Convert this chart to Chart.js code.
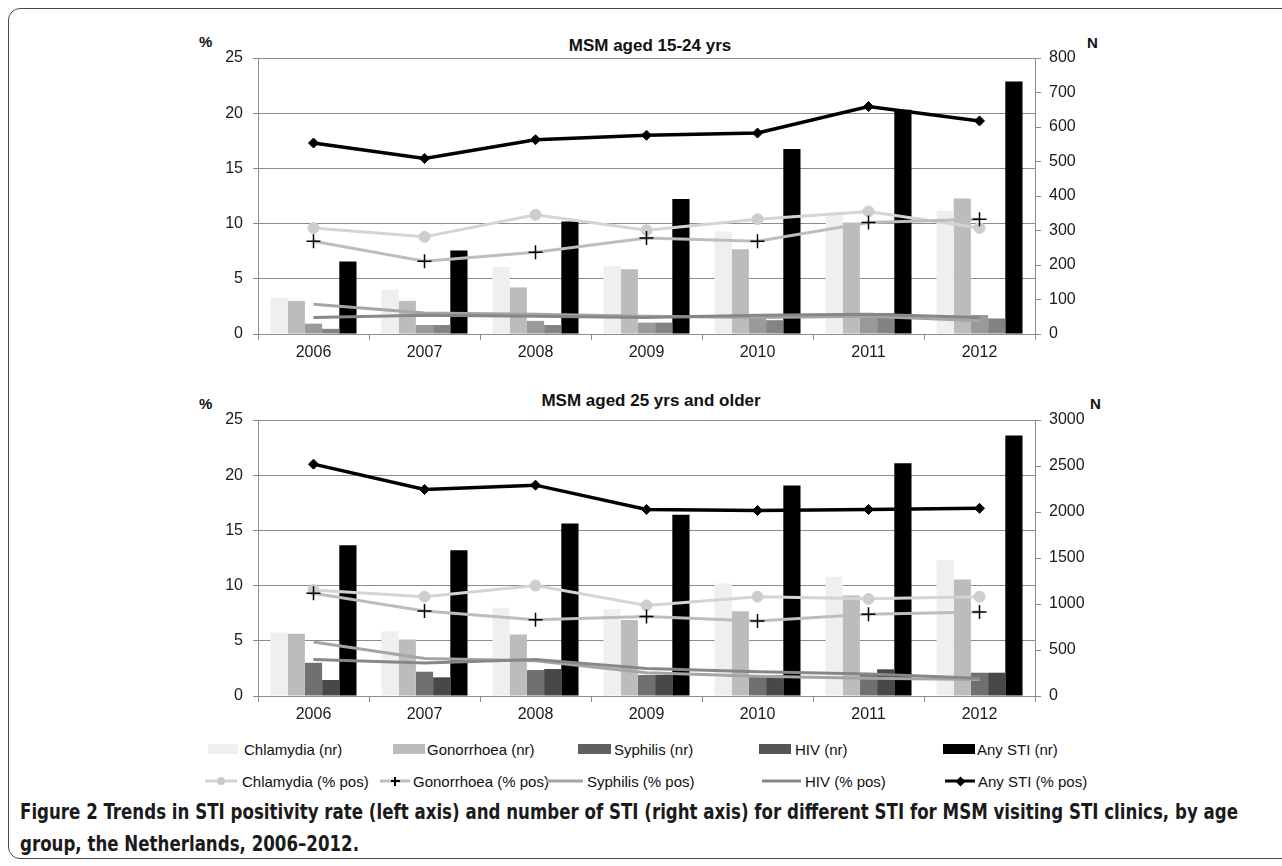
<!DOCTYPE html>
<html>
<head>
<meta charset="utf-8">
<script src="https://cdn.jsdelivr.net/npm/chart.js@4.4.1/dist/chart.umd.min.js"></script>
<style>
  html,body{margin:0;padding:0;background:#fff;}
  body{width:1282px;height:866px;position:relative;overflow:hidden;font-family:"Liberation Sans",Arial,sans-serif;color:#111;}
  .frame{position:absolute;left:8px;top:8px;width:1320px;height:851px;border:1.5px solid #4a4a4a;border-radius:12px;box-sizing:border-box;}
  canvas{position:absolute;}
  .lbl{position:absolute;white-space:nowrap;line-height:1;}
  .title{font-weight:bold;font-size:17px;transform:translate(-50%,-50%);}
  .unit{font-weight:bold;font-size:15px;transform:translate(0,-50%);}
  .leg{position:absolute;font-size:15px;line-height:1;white-space:nowrap;transform:translate(0,-50%);color:#111;}
  .sw{position:absolute;height:10px;transform:translate(0,-50%);}
  .ln{position:absolute;height:3px;transform:translate(0,-50%);}
  .cap{position:absolute;left:20px;font-family:"Liberation Sans Narrow","DejaVu Sans Condensed","Liberation Sans",sans-serif;font-weight:bold;font-size:22px;color:#1a1a1a;white-space:nowrap;transform-origin:0 50%;line-height:1;}
</style>
</head>
<body>
<div class="frame"></div>

<div class="lbl unit" style="left:199px;top:41px;">%</div>
<div class="lbl unit" style="left:1087px;top:42px;">N</div>
<div class="lbl title" style="left:650px;top:45px;">MSM aged 15-24 yrs</div>
<canvas id="c1" width="1000" height="330" style="left:150px;top:38px;"></canvas>

<div class="lbl unit" style="left:199px;top:403px;">%</div>
<div class="lbl unit" style="left:1090px;top:403px;">N</div>
<div class="lbl title" style="left:651px;top:400px;">MSM aged 25 yrs and older</div>
<canvas id="c2" width="1000" height="330" style="left:150px;top:400px;"></canvas>

<div id="legend"></div>

<div class="cap" id="cap1" style="top:812px;">Figure 2 Trends in STI positivity rate (left axis) and number of STI (right axis) for different STI for MSM visiting STI clinics, by age</div>
<div class="cap" id="cap2" style="top:844px;">group, the Netherlands, 2006–2012.</div>

<script>
// ---------- data ----------
const years = ['2006','2007','2008','2009','2010','2011','2012'];

// MSM aged 15-24 yrs: numbers (right axis, N)
const youngChlamydiaNr  = [105, 128, 194, 197, 297, 350, 357];
const youngGonorrhoeaNr = [96, 96, 135, 188, 246, 323, 393];
const youngSyphilisNr   = [30, 26, 38, 33, 50, 55, 55];
const youngHivNr        = [15, 26, 26, 33, 40, 61, 45];
const youngAnyNr        = [210, 242, 326, 391, 536, 650, 732];
// MSM aged 15-24 yrs: positivity (left axis, %)
const youngChlamydiaPct  = [9.6, 8.8, 10.8, 9.4, 10.4, 11.1, 9.6];
const youngGonorrhoeaPct = [8.4, 6.6, 7.4, 8.7, 8.4, 10.1, 10.4];
const youngSyphilisPct   = [2.7, 1.9, 1.8, 1.6, 1.5, 1.6, 1.2];
const youngHivPct        = [1.5, 1.7, 1.6, 1.5, 1.7, 1.8, 1.5];
const youngAnyPct        = [17.3, 15.9, 17.6, 18.0, 18.2, 20.6, 19.3];

// MSM aged 25 yrs and older: numbers (right axis, N)
const oldChlamydiaNr  = [691, 705, 958, 944, 1223, 1295, 1475];
const oldGonorrhoeaNr = [676, 615, 669, 825, 922, 1092, 1266];
const oldSyphilisNr   = [361, 264, 282, 228, 228, 246, 253];
const oldHivNr        = [174, 203, 293, 228, 228, 290, 253];
const oldAnyNr        = [1638, 1584, 1874, 1971, 2289, 2531, 2832];
// MSM aged 25 yrs and older: positivity (left axis, %)
const oldChlamydiaPct  = [9.6, 9.0, 10.0, 8.2, 9.0, 8.8, 9.0];
const oldGonorrhoeaPct = [9.3, 7.7, 6.9, 7.2, 6.8, 7.4, 7.6];
const oldSyphilisPct   = [4.9, 3.4, 3.2, 2.1, 1.8, 1.6, 1.5];
const oldHivPct        = [3.3, 3.0, 3.3, 2.5, 2.2, 2.0, 1.6];
const oldAnyPct        = [21.0, 18.7, 19.1, 16.9, 16.8, 16.9, 17.0];

const leftTicks = {min: 0, max: 25, step: 5};
const youngRight = {min: 0, max: 800, step: 100};
const oldRight = {min: 0, max: 3000, step: 500};

const barLabels  = ['Chlamydia (nr)','Gonorrhoea (nr)','Syphilis (nr)','HIV (nr)','Any STI (nr)'];
const lineLabels = ['Chlamydia (% pos)','Gonorrhoea (% pos)','Syphilis (% pos)','HIV (% pos)','Any STI (% pos)'];

// ---------- styles ----------
const GRID = '#8c8c8c';
const TXT = '#1a1a1a';
const FONT = {family: '"Liberation Sans", Arial, sans-serif', size: 16};
const plain = v => String(v);

function makeChart(id, bars, lines, right, barColors) {
  const ds = [];
  bars.forEach((d, i) => ds.push({
    type: 'bar', label: barLabels[i], data: d, yAxisID: 'y1', order: 10,
    backgroundColor: barColors[i], borderWidth: 0,
    barPercentage: 1.0, categoryPercentage: 0.775
  }));
  const lineStyles = [
    {borderColor: '#d4d4d4', borderWidth: 3, pointStyle: 'circle', pointRadius: 5.5, pointBackgroundColor: '#cdcdcd', pointBorderColor: '#cdcdcd', pointBorderWidth: 1},
    {borderColor: '#bdbdbd', borderWidth: 3, pointStyle: 'cross', pointRadius: 7, pointBackgroundColor: '#000', pointBorderColor: '#000', pointBorderWidth: 1.5},
    {borderColor: '#a5a5a5', borderWidth: 3, pointRadius: 0},
    {borderColor: '#878787', borderWidth: 3, pointRadius: 0},
    {borderColor: '#000000', borderWidth: 3.5, pointStyle: 'rectRot', pointRadius: 5, pointBackgroundColor: '#000', pointBorderColor: '#000', pointBorderWidth: 1}
  ];
  lines.forEach((d, i) => ds.push(Object.assign({
    type: 'line', label: lineLabels[i], data: d, yAxisID: 'y', order: 5 - i,
    tension: 0, fill: false
  }, lineStyles[i])));

  return new Chart(document.getElementById(id), {
    data: {labels: years, datasets: ds},
    options: {
      responsive: false, animation: false, devicePixelRatio: 1,
      layout: {padding: {top: 20, left: 0, right: 0, bottom: 0}},
      plugins: {legend: {display: false}, tooltip: {enabled: false}, title: {display: false}},
      scales: {
        x: {
          type: 'category', offset: true,
          grid: {display: true, offset: true, drawOnChartArea: false, drawTicks: true, tickLength: 6, color: GRID},
          border: {display: true, color: GRID, width: 1},
          ticks: {font: FONT, color: TXT, padding: 3, maxRotation: 0, autoSkip: false},
          afterFit: s => { s.height = 34; }
        },
        y: {
          position: 'left', min: leftTicks.min, max: leftTicks.max,
          ticks: {stepSize: leftTicks.step, font: FONT, color: TXT, padding: 10, callback: plain},
          grid: {color: GRID, tickLength: 5, lineWidth: 1},
          border: {display: true, color: GRID},
          afterFit: s => { s.width = 108; }
        },
        y1: {
          position: 'right', min: right.min, max: right.max,
          ticks: {stepSize: right.step, font: FONT, color: TXT, padding: 8, callback: plain},
          grid: {drawOnChartArea: false, tickLength: 6, color: GRID},
          border: {display: true, color: GRID},
          afterFit: s => { s.width = 115; }
        }
      }
    }
  });
}

makeChart('c1',
  [youngChlamydiaNr, youngGonorrhoeaNr, youngSyphilisNr, youngHivNr, youngAnyNr],
  [youngChlamydiaPct, youngGonorrhoeaPct, youngSyphilisPct, youngHivPct, youngAnyPct],
  youngRight, ['#efefef', '#bcbcbc', '#9a9a9a', '#838383', '#000000']);

makeChart('c2',
  [oldChlamydiaNr, oldGonorrhoeaNr, oldSyphilisNr, oldHivNr, oldAnyNr],
  [oldChlamydiaPct, oldGonorrhoeaPct, oldSyphilisPct, oldHivPct, oldAnyPct],
  oldRight, ['#efefef', '#bcbcbc', '#707070', '#484848', '#000000']);

// ---------- legend ----------
const leg = document.getElementById('legend');
function add(html) { leg.insertAdjacentHTML('beforeend', html); }
const row1 = 749, row2 = 781;
const barLeg = [
  {x: 208, w: 30, c: '#efefef', t: 244},
  {x: 393, w: 32, c: '#bcbcbc', t: 427},
  {x: 578, w: 33, c: '#606060', t: 614},
  {x: 759, w: 32, c: '#555555', t: 795},
  {x: 943, w: 32, c: '#000000', t: 977}
];
barLeg.forEach((b, i) => {
  add(`<div class="sw" style="left:${b.x}px;top:${row1}px;width:${b.w}px;background:${b.c}"></div>`);
  add(`<div class="leg" style="left:${b.t}px;top:${row1}px;">${barLabels[i]}</div>`);
});
const lineLeg = [
  {x: 205, w: 32, c: '#d4d4d4', t: 242, m: 'circle'},
  {x: 380, w: 30, c: '#bdbdbd', t: 413, m: 'plus'},
  {x: 546, w: 37, c: '#a5a5a5', t: 587, m: ''},
  {x: 762, w: 39, c: '#878787', t: 805, m: ''},
  {x: 945, w: 30, c: '#000000', t: 978, m: 'diamond'}
];
lineLeg.forEach((l, i) => {
  add(`<div class="ln" style="left:${l.x}px;top:${row2}px;width:${l.w}px;background:${l.c}"></div>`);
  const cx = l.x + l.w / 2;
  if (l.m === 'circle') add(`<div style="position:absolute;left:${cx-4}px;top:${row2-4}px;width:8px;height:8px;border-radius:50%;background:#c8c8c8"></div>`);
  if (l.m === 'plus') add(`<div style="position:absolute;left:${cx-4.5}px;top:${row2-0.75}px;width:9px;height:1.5px;background:#000"></div><div style="position:absolute;left:${cx-0.75}px;top:${row2-4.5}px;width:1.5px;height:9px;background:#000"></div>`);
  if (l.m === 'diamond') add(`<div style="position:absolute;left:${cx-3.5}px;top:${row2-3.5}px;width:7px;height:7px;background:#000;transform:rotate(45deg)"></div>`);
  add(`<div class="leg" style="left:${l.t}px;top:${row2}px;">${lineLabels[i]}</div>`);
});

// ---------- caption width fit ----------
const c1 = document.getElementById('cap1'), c2 = document.getElementById('cap2');
const target = 1218;
const k = target / c1.getBoundingClientRect().width;
c1.style.transform = `translate(0,-50%) scaleX(${k})`;
c2.style.transform = `translate(0,-50%) scaleX(${k})`;
</script>
</body>
</html>
